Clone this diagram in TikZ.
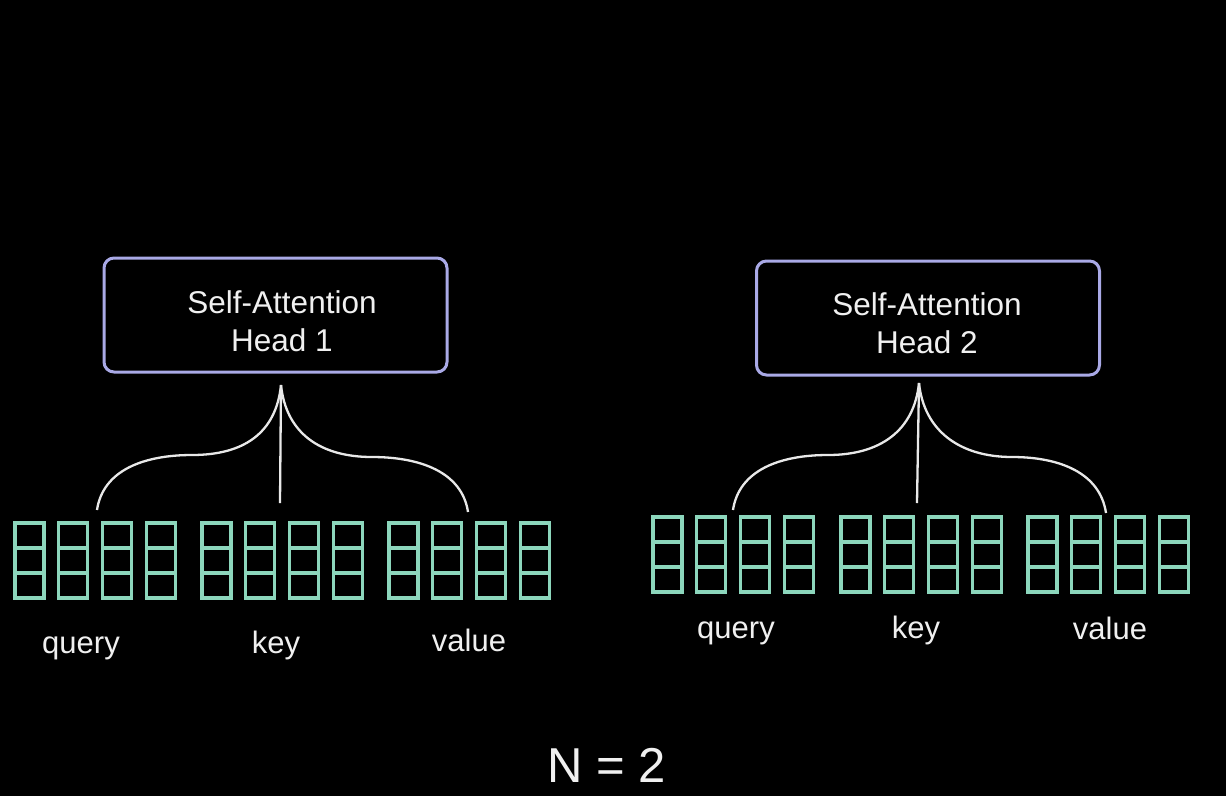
\documentclass[tikz,border=0pt]{standalone}
\usepackage{fontspec}
\setmainfont{Liberation Sans}
\usetikzlibrary{calc}
\definecolor{mint}{HTML}{8CD6BC}
\definecolor{lav}{HTML}{A9A9E6}
\definecolor{ln}{HTML}{E8E8E8}
\definecolor{tx}{HTML}{F0F0F0}
\begin{document}
\begin{tikzpicture}[x=1pt,y=-1pt,
  headbox/.style={draw=lav, line width=3pt, rounded corners=10pt, fill=black,
    minimum width=343pt, minimum height=114pt, inner sep=0pt},
  headtext/.style={text=tx, align=center, font=\fontsize{31.5}{38}\selectfont},
  lab/.style={text=tx, anchor=base, font=\fontsize{31}{36}\selectfont},
  brace/.style={draw=ln, line width=2.3pt},
  cell/.style={draw=mint, line width=3.2pt}
]
\fill[black] (0,0) rectangle (1226,796);
\useasboundingbox (0,0) rectangle (1226,796);

% head boxes
\node[headbox] (h1) at (275.5,315) {};
\node[headtext] (h1t) at (282,321) {Self-Attention\\Head 1};
\node[headbox] (h2) at (928,318) {};
\node[headtext] (h2t) at (927,323) {Self-Attention\\Head 2};

% vectors
\foreach \gx/\ty in {15/523,202/523,389/523,653/517,841/517,1028/517}{
  \foreach \i in {0,1,2,3}{
    \pgfmathsetmacro{\vx}{\gx+43.8*\i}
    \draw[cell] (\vx,\ty) rectangle ++(29,75);
    \draw[cell] (\vx,\ty+25) -- ++(29,0);
    \draw[cell] (\vx,\ty+50) -- ++(29,0);
  }
}

% labels
\node[lab] (lq1) at (81,653) {query};
\node[lab] (lk1) at (276,653) {key};
\node[lab] (lv1) at (469,651) {value};
\node[lab] (lq2) at (736,638) {query};
\node[lab] (lk2) at (916,638) {key};
\node[lab] (lv2) at (1110,639) {value};

\node[text=tx, anchor=base, font=\fontsize{49}{60}\selectfont] (n) at (607,782) {N = 2};

% brace coordinates
\coordinate (a1) at (281,385);
\coordinate (q1) at (97,510);
\coordinate (k1) at (280,503);
\coordinate (v1) at (468,512);
\coordinate (m1) at (192,455);
\coordinate (n1) at (372,457);
\coordinate (a2) at (919,383);
\coordinate (q2) at (733,510);
\coordinate (k2) at (917,503);
\coordinate (v2) at (1106,513);
\coordinate (m2) at (828,455);
\coordinate (n2) at (1012,457);

\draw[brace] (q1) .. controls +(6,-40) and +(-48,0) .. (m1)
  .. controls +(52,0) and +(-5,48) .. (a1);
\draw[brace] (v1) .. controls +(-6,-40) and +(48,0) .. (n1)
  .. controls +(-52,0) and +(5,48) .. (a1);
\draw[brace] (a1) -- (k1);
\draw[brace] (q2) .. controls +(6,-40) and +(-48,0) .. (m2)
  .. controls +(52,0) and +(-5,48) .. (a2);
\draw[brace] (v2) .. controls +(-6,-40) and +(48,0) .. (n2)
  .. controls +(-52,0) and +(5,48) .. (a2);
\draw[brace] (a2) -- (k2);
\end{tikzpicture}
\end{document}
